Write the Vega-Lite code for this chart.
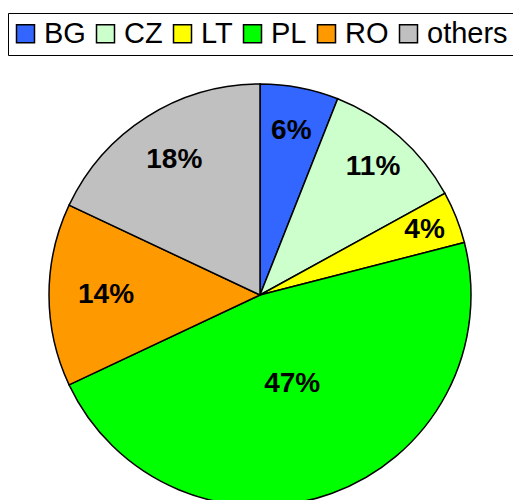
{
  "$schema": "https://vega.github.io/schema/vega-lite/v6.json",
  "autosize": "none",
  "width": 422,
  "height": 422,
  "padding": {"top": 84, "left": 49, "right": 42, "bottom": 0},
  "background": "white",
  "config": {"view": {"stroke": null}, "font": "Liberation Sans"},
  "data": {
    "values": [
      {"country": "BG", "share": 6, "label": "6%"},
      {"country": "CZ", "share": 11, "label": "11%"},
      {"country": "LT", "share": 4, "label": "4%"},
      {"country": "PL", "share": 47, "label": "47%"},
      {"country": "RO", "share": 14, "label": "14%"},
      {"country": "others", "share": 18, "label": "18%"}
    ]
  },
  "encoding": {
    "theta": {"field": "share", "type": "quantitative", "stack": true},
    "order": {"field": "country", "sort": "ascending"}
  },
  "layer": [
    {
      "mark": {"type": "arc", "stroke": "black", "strokeWidth": 1.5},
      "encoding": {
        "color": {
          "field": "country",
          "type": "nominal",
          "sort": ["BG", "CZ", "LT", "PL", "RO", "others"],
          "scale": {
            "domain": ["BG", "CZ", "LT", "PL", "RO", "others"],
            "range": ["#3366ff", "#ccffcc", "#ffff00", "#00ff00", "#ff9900", "#c0c0c0"]
          },
          "legend": {
            "title": null,
            "orient": "none",
            "legendX": -41,
            "legendY": -71,
            "direction": "horizontal",
            "columns": 6,
            "symbolType": "square",
            "symbolSize": 324,
            "symbolStrokeColor": "black",
            "symbolStrokeWidth": 1.5,
            "symbolOpacity": 1,
            "symbolOffset": -3,
            "labelFontSize": 29,
            "labelFont": "Liberation Sans",
            "labelColor": "black",
            "labelOffset": 4,
            "columnPadding": 7,
            "strokeColor": "black",
            "padding": 6,
            "labelLimit": 200
          }
        }
      }
    },
    {
      "mark": {"type": "text", "radius": 167, "fontSize": 28, "fontWeight": "bold", "font": "Liberation Sans", "color": "black"},
      "encoding": {"text": {"condition": {"test": "datum.country !== 'BG'", "value": ""}, "field": "label"}}
    },
    {
      "mark": {"type": "text", "radius": 171, "fontSize": 28, "fontWeight": "bold", "font": "Liberation Sans", "color": "black"},
      "encoding": {"text": {"condition": {"test": "datum.country !== 'CZ'", "value": ""}, "field": "label"}}
    },
    {
      "mark": {"type": "text", "radius": 177, "fontSize": 28, "fontWeight": "bold", "font": "Liberation Sans", "color": "black"},
      "encoding": {"text": {"condition": {"test": "datum.country !== 'LT'", "value": ""}, "field": "label"}}
    },
    {
      "mark": {"type": "text", "radius": 95, "fontSize": 28, "fontWeight": "bold", "font": "Liberation Sans", "color": "black"},
      "encoding": {"text": {"condition": {"test": "datum.country !== 'PL'", "value": ""}, "field": "label"}}
    },
    {
      "mark": {"type": "text", "radius": 154, "fontSize": 28, "fontWeight": "bold", "font": "Liberation Sans", "color": "black"},
      "encoding": {"text": {"condition": {"test": "datum.country !== 'RO'", "value": ""}, "field": "label"}}
    },
    {
      "mark": {"type": "text", "radius": 160, "fontSize": 28, "fontWeight": "bold", "font": "Liberation Sans", "color": "black"},
      "encoding": {"text": {"condition": {"test": "datum.country !== 'others'", "value": ""}, "field": "label"}}
    }
  ]
}
